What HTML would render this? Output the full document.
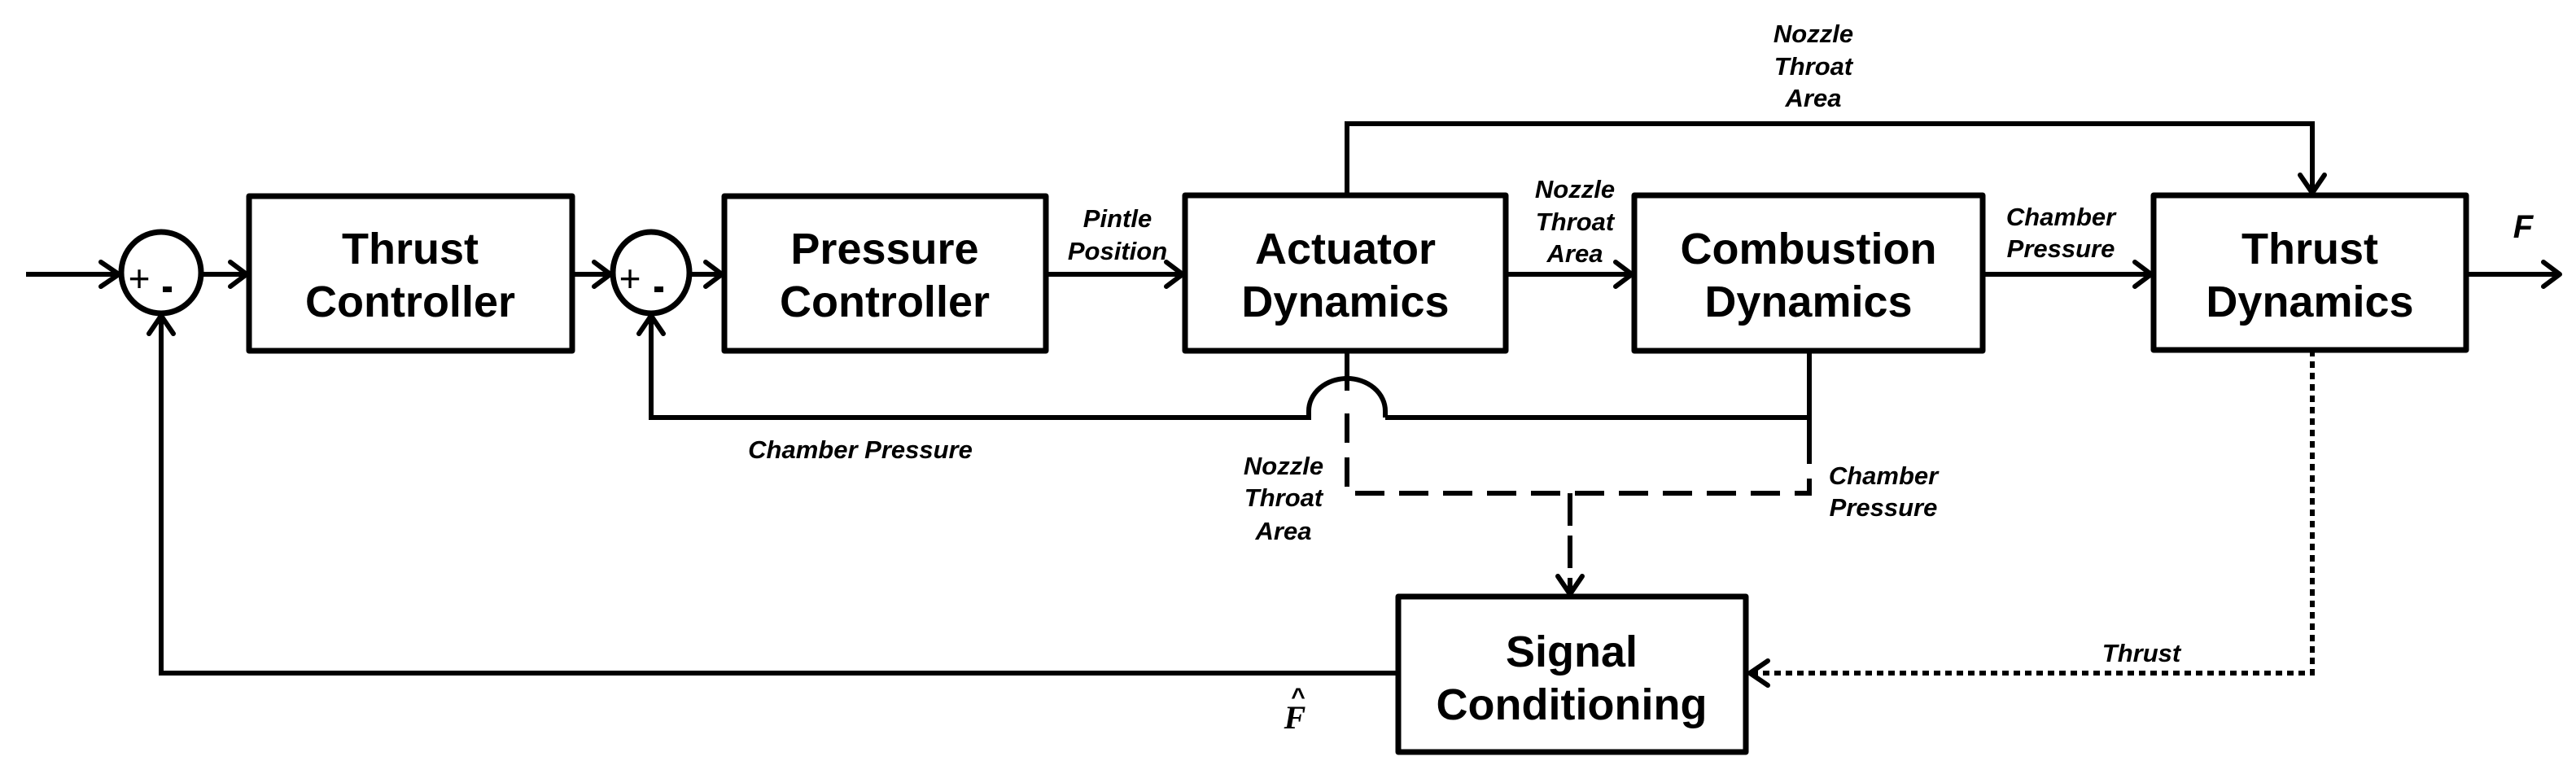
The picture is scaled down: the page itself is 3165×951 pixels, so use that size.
<!DOCTYPE html>
<html><head><meta charset="utf-8"><style>
html,body{margin:0;padding:0;background:#fff;}
svg{display:block;}
.b{font-family:"Liberation Sans",sans-serif;font-weight:bold;font-size:54px;text-anchor:middle;}
.l{font-family:"Liberation Sans",sans-serif;font-weight:bold;font-style:italic;font-size:31px;text-anchor:middle;}
</style></head><body>
<svg width="3165" height="951" viewBox="0 0 3165 951" xmlns="http://www.w3.org/2000/svg">
<g fill="none" stroke="#000" stroke-width="7" stroke-linejoin="round">
<rect x="306" y="241" width="397" height="190"/>
<rect x="890" y="241" width="395" height="190"/>
<rect x="1456" y="240" width="394" height="191"/>
<rect x="2008" y="240" width="428" height="191"/>
<rect x="2646" y="240" width="384" height="190"/>
<rect x="1718" y="733" width="427" height="191"/>
<ellipse cx="198" cy="335" rx="49" ry="50"/>
<ellipse cx="800" cy="335" rx="47" ry="50"/>
</g>
<g fill="none" stroke="#000" stroke-width="6" stroke-linecap="butt">
<line x1="32" y1="337" x2="146" y2="337"/>
<line x1="248" y1="337" x2="303" y2="337"/>
<line x1="703" y1="337" x2="750" y2="337"/>
<line x1="848" y1="337" x2="887" y2="337"/>
<line x1="1285" y1="337" x2="1453" y2="337"/>
<line x1="1850" y1="337" x2="2005" y2="337"/>
<line x1="2436" y1="337" x2="2643" y2="337"/>
<line x1="3030" y1="337" x2="3145" y2="337"/>
<polyline points="1655,240 1655,152 2841,152 2841,237"/>
<polyline points="2223,431 2223,513 1702,513"/>
<path d="M1702,513 L1702,505 A47,40 0 0 0 1608,505 L1608,513 L800,513 L800,388"/>
<line x1="1655" y1="431" x2="1655" y2="480"/>
<line x1="2223" y1="513" x2="2223" y2="560"/>
<polyline points="1718,827 198,827 198,388"/>
</g>
<g fill="none" stroke="#000" stroke-width="6">
<path d="M1655,508 L1655,606 L2223,606 L2223,560" stroke-dasharray="36,18"/>
<path d="M1929,606 L1929,730" stroke-dasharray="40,12"/>
<path d="M2841,430 L2841,827 L2150,827" stroke-dasharray="8,6"/>
</g>
<g fill="none" stroke="#000" stroke-width="6" stroke-linecap="round" stroke-linejoin="round">
<polyline points="124,322 146,337 124,352"/>
<polyline points="283,322 303,337 283,352"/>
<polyline points="730,322 750,337 730,352"/>
<polyline points="867,322 887,337 867,352"/>
<polyline points="1433,322 1453,337 1433,352"/>
<polyline points="1985,322 2005,337 1985,352"/>
<polyline points="2623,322 2643,337 2623,352"/>
<polyline points="3125,322 3145,337 3125,352"/>
<polyline points="2826,215 2841,237 2856,215"/>
<polyline points="1914,708 1929,730 1944,708"/>
<polyline points="2172,812 2150,827 2172,842"/>
<polyline points="183,410 198,388 213,410"/>
<polyline points="785,410 800,388 815,410"/>
</g>
<g class="b">
<text x="504" y="324">Thrust</text><text x="504" y="389">Controller</text>
<text x="1087" y="324">Pressure</text><text x="1087" y="389">Controller</text>
<text x="1653" y="324">Actuator</text><text x="1653" y="389">Dynamics</text>
<text x="2222" y="324">Combustion</text><text x="2222" y="389">Dynamics</text>
<text x="2838" y="324">Thrust</text><text x="2838" y="389">Dynamics</text>
<text x="1931" y="819">Signal</text><text x="1931" y="884">Conditioning</text>
</g>
<g style="font-family:'Liberation Sans',sans-serif;font-size:46px;" text-anchor="middle">
<text x="171" y="358">+</text>
<text x="774" y="358">+</text>
</g>
<rect x="200" y="352" width="11" height="7" fill="#000"/>
<rect x="804" y="352" width="11" height="7" fill="#000"/>
<g class="l">
<text x="1373" y="279">Pintle</text><text x="1373" y="319">Position</text>
<text x="1935" y="243">Nozzle</text><text x="1935" y="283">Throat</text><text x="1935" y="322">Area</text>
<text x="2532" y="277">Chamber</text><text x="2532" y="316">Pressure</text>
<text x="2228" y="52">Nozzle</text><text x="2228" y="92">Throat</text><text x="2228" y="131">Area</text>
<text x="1057" y="563">Chamber Pressure</text>
<text x="1577" y="583">Nozzle</text><text x="1577" y="622">Throat</text><text x="1577" y="663">Area</text>
<text x="2314" y="595">Chamber</text><text x="2314" y="634">Pressure</text>
<text x="2631" y="813">Thrust</text>
<text x="3100" y="292" style="font-size:40px">F</text>
<text x="1591" y="895" style="font-size:40px;font-family:'Liberation Serif',serif">F</text>
<text x="1595" y="866" style="font-size:30px;font-style:normal">^</text>
</g>
</svg>
</body></html>
